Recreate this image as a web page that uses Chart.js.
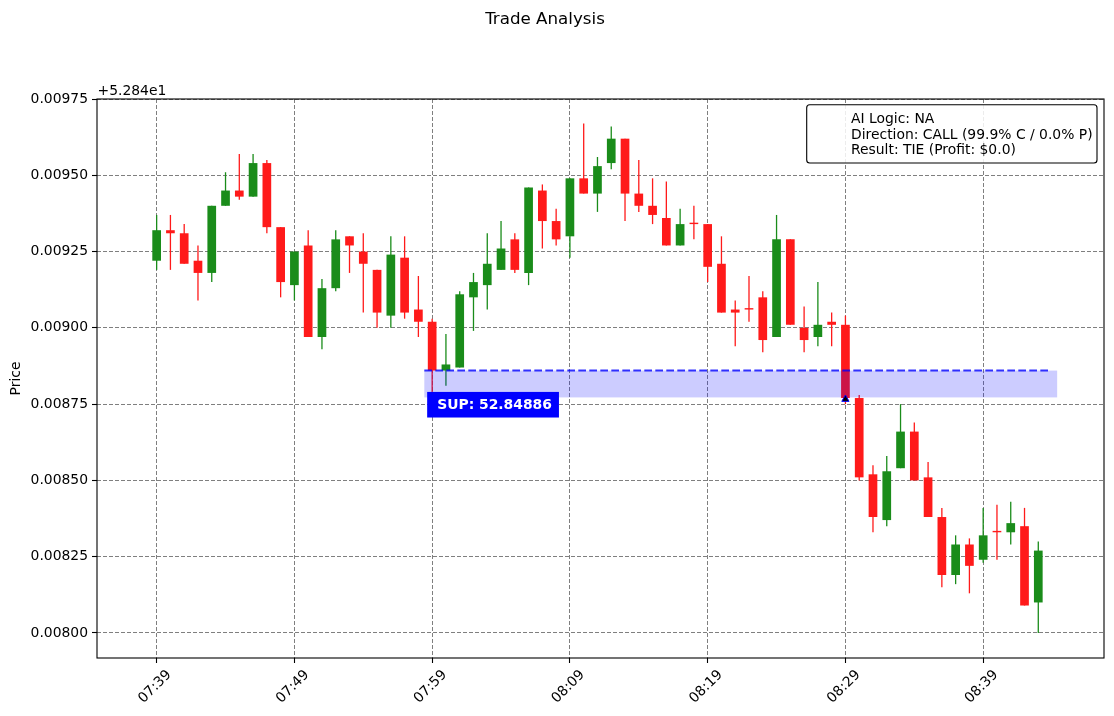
<!DOCTYPE html>
<html>
<head>
<meta charset="utf-8">
<title>Trade Analysis</title>
<script src="https://cdn.jsdelivr.net/npm/chart.js@4.4.1/dist/chart.umd.min.js"></script>
<style>
  html, body { margin: 0; padding: 0; background: #fff; }
  canvas { display: block; }
</style>
</head>
<body>
<canvas id="tradeChart" width="1114" height="716"></canvas>
<script>
// one candle per minute
const times = [
  '07:39','07:40','07:41','07:42','07:43','07:44','07:45','07:46','07:47','07:48',
  '07:49','07:50','07:51','07:52','07:53','07:54','07:55','07:56','07:57','07:58',
  '07:59','08:00','08:01','08:02','08:03','08:04','08:05','08:06','08:07','08:08',
  '08:09','08:10','08:11','08:12','08:13','08:14','08:15','08:16','08:17','08:18',
  '08:19','08:20','08:21','08:22','08:23','08:24','08:25','08:26','08:27','08:28',
  '08:29','08:30','08:31','08:32','08:33','08:34','08:35','08:36','08:37','08:38',
  '08:39','08:40','08:41','08:42','08:43'
];
const opens = [
  52.84922,52.84932,52.84931,52.84922,52.84918,52.84940,52.84945,52.84943,52.84954,52.84933,
  52.84914,52.84927,52.84897,52.84913,52.84930,52.84925,52.84919,52.84904,52.84923,52.84906,
  52.84902,52.84886,52.84887,52.84910,52.84914,52.84919,52.84929,52.84918,52.84945,52.84935,
  52.84930,52.84949,52.84944,52.84954,52.84962,52.84944,52.84940,52.84936,52.84927,52.84934,
  52.84934,52.84921,52.84906,52.84906,52.84910,52.84897,52.84929,52.84900,52.84897,52.84902,
  52.84901,52.84877,52.84852,52.84837,52.84854,52.84866,52.84851,52.84838,52.84819,52.84829,
  52.84824,52.84833,52.84833,52.84835,52.84810
];
const highs = [
  52.84937,52.84937,52.84934,52.84927,52.84940,52.84951,52.84957,52.84957,52.84955,52.84933,
  52.84925,52.84932,52.84916,52.84932,52.84930,52.84931,52.84919,52.84930,52.84930,52.84917,
  52.84903,52.84898,52.84912,52.84918,52.84931,52.84935,52.84931,52.84946,52.84947,52.84939,
  52.84949,52.84967,52.84956,52.84966,52.84962,52.84955,52.84949,52.84948,52.84939,52.84940,
  52.84934,52.84930,52.84909,52.84917,52.84912,52.84937,52.84929,52.84907,52.84915,52.84905,
  52.84904,52.84878,52.84855,52.84858,52.84875,52.84869,52.84856,52.84841,52.84832,52.84831,
  52.84841,52.84842,52.84843,52.84841,52.84830
];
const lows = [
  52.84919,52.84919,52.84921,52.84909,52.84915,52.84940,52.84942,52.84943,52.84931,52.84910,
  52.84909,52.84897,52.84893,52.84912,52.84918,52.84905,52.84900,52.84900,52.84903,52.84897,
  52.84879,52.84881,52.84887,52.84899,52.84906,52.84919,52.84918,52.84914,52.84926,52.84927,
  52.84923,52.84944,52.84938,52.84952,52.84935,52.84938,52.84934,52.84927,52.84927,52.84929,
  52.84915,52.84905,52.84894,52.84902,52.84892,52.84897,52.84901,52.84892,52.84894,52.84894,
  52.84875,52.84850,52.84833,52.84835,52.84854,52.84850,52.84838,52.84815,52.84816,52.84813,
  52.84823,52.84824,52.84829,52.84809,52.84800
];
const closes = [
  52.84932,52.84931,52.84921,52.84918,52.84940,52.84945,52.84943,52.84954,52.84933,52.84915,
  52.84925,52.84897,52.84913,52.84929,52.84927,52.84921,52.84905,52.84924,52.84905,52.84902,
  52.84886,52.84888,52.84911,52.84915,52.84921,52.84926,52.84919,52.84946,52.84935,52.84929,
  52.84949,52.84944,52.84953,52.84962,52.84944,52.84940,52.84937,52.84927,52.84934,52.84934,
  52.84920,52.84905,52.84905,52.84906,52.84896,52.84929,52.84901,52.84896,52.84901,52.84901,
  52.84877,52.84851,52.84838,52.84853,52.84866,52.84850,52.84838,52.84819,52.84829,52.84822,
  52.84832,52.84833,52.84836,52.84809,52.84827
];

const xTickLabels = ['07:39','07:49','07:59','08:09','08:19','08:29','08:39'];
const yOffset = 52.84;
const yOffsetText = '+5.284e1';
const yTickLabels = ['0.00800','0.00825','0.00850','0.00875','0.00900','0.00925','0.00950','0.00975'];

// support zone
const supLevel = 52.84886;
const supLow = 52.848772;
const supStart = 478.43;     // minutes of day, just before 07:59
const supLineEnd = 523.86;
const supBandEnd = 524.37;
const supLabel = 'SUP: 52.84886';

// entry marker
const entryTime = '08:29';
const entryPrice = 52.848766;

const legendLines = [
  'AI Logic: NA',
  'Direction: CALL (99.9% C / 0.0% P)',
  'Result: TIE (Profit: $0.0)'
];
const titleText = 'Trade Analysis';

const toMin = t => { const p = t.split(':'); return (+p[0]) * 60 + (+p[1]); };

const upColor = '#1a8c1a';
const downColor = '#ff1a1a';
const candleColors = times.map((t, i) => closes[i] > opens[i] ? upColor : downColor);

const wickData = times.map((t, i) => ({ x: toMin(t), y: [lows[i], highs[i]] }));
const bodyData = times.map((t, i) => ({ x: toMin(t), y: [opens[i], closes[i]] }));

const FONT = 'DejaVu Sans';
Chart.defaults.font.family = FONT;

const overlay = {
  id: 'overlay',
  afterDatasetDraw(chart, args) {
    if (args.index !== 1) return;
    const { ctx, chartArea: a, scales: { x, y } } = chart;
    ctx.save();
    ctx.beginPath();
    ctx.rect(a.left, a.top, a.right - a.left, a.bottom - a.top);
    ctx.clip();
    const x0 = x.getPixelForValue(supStart);
    const x1 = x.getPixelForValue(supBandEnd);
    const xl = x.getPixelForValue(supLineEnd);
    const yt = y.getPixelForValue(supLevel);
    const yb = y.getPixelForValue(supLow);
    ctx.fillStyle = 'rgba(0,0,255,0.2)';
    ctx.fillRect(x0, yt, x1 - x0, yb - yt);
    ctx.strokeStyle = 'rgba(0,0,255,0.8)';
    ctx.lineWidth = 2;
    ctx.setLineDash([7.7, 3.3]);
    ctx.beginPath();
    ctx.moveTo(x0, yt);
    ctx.lineTo(xl, yt);
    ctx.stroke();
    ctx.restore();
  },
  afterDraw(chart) {
    const { ctx, chartArea: a, scales: { x, y } } = chart;
    ctx.save();

    // frame
    ctx.strokeStyle = '#000';
    ctx.lineWidth = 1.1;
    ctx.strokeRect(a.left, a.top, a.right - a.left, a.bottom - a.top);

    // title
    ctx.fillStyle = '#000';
    ctx.font = '16.7px "' + FONT + '"';
    ctx.textAlign = 'center';
    ctx.textBaseline = 'alphabetic';
    ctx.fillText(titleText, 545, 24);

    // offset text
    ctx.font = '13.9px "' + FONT + '"';
    ctx.textAlign = 'left';
    ctx.fillText(yOffsetText, a.left + 0.5, a.top - 4.5);

    // y title
    ctx.save();
    ctx.translate(16.5, (a.top + a.bottom) / 2);
    ctx.rotate(-Math.PI / 2);
    ctx.textAlign = 'center';
    ctx.textBaseline = 'middle';
    ctx.fillText('Price', 0, 0);
    ctx.restore();

    // x tick labels, rotated 45 and centred on the tick
    ctx.textAlign = 'center';
    ctx.textBaseline = 'middle';
    xTickLabels.forEach(t => {
      const px = x.getPixelForValue(toMin(t));
      const w = ctx.measureText(t).width;
      const side = (w + 14) * Math.SQRT1_2;
      ctx.save();
      ctx.translate(px - 1.5, a.bottom + 9.8 + side / 2);
      ctx.rotate(-Math.PI / 4);
      ctx.fillText(t, 0, 0);
      ctx.restore();
    });

    // support label
    ctx.font = 'bold 13.9px "' + FONT + '"';
    ctx.textAlign = 'left';
    const tx = x.getPixelForValue(toMin('07:59')) + 5;
    const ty = y.getPixelForValue(supLow) + 7.3;
    const tw = ctx.measureText(supLabel).width;
    ctx.fillStyle = '#0000ff';
    ctx.fillRect(tx - 10, ty - 12.8, tw + 17, 25.6);
    ctx.fillStyle = '#fff';
    ctx.fillText(supLabel, tx, ty + 0.5);

    // legend box
    const lx0 = a.right - 297.3, lx1 = a.right - 7, ly0 = a.top + 5.7, ly1 = a.top + 64;
    ctx.beginPath();
    ctx.roundRect(lx0, ly0, lx1 - lx0, ly1 - ly0, 3);
    ctx.fillStyle = 'rgba(255,255,255,0.85)';
    ctx.fill();
    ctx.strokeStyle = '#000';
    ctx.lineWidth = 1.1;
    ctx.stroke();
    ctx.fillStyle = '#000';
    ctx.font = '13.9px "' + FONT + '"';
    ctx.textBaseline = 'alphabetic';
    legendLines.forEach((s, i) => ctx.fillText(s, lx0 + 44.3, ly0 + 18.5 + i * 15.5));

    ctx.restore();
  }
};

new Chart(document.getElementById('tradeChart').getContext('2d'), {
  type: 'bar',
  data: {
    datasets: [{
      label: 'wick',
      data: wickData,
      backgroundColor: candleColors,
      grouped: false,
      maxBarThickness: 1.3,
      order: 3
    }, {
      label: 'body',
      data: bodyData,
      backgroundColor: candleColors,
      grouped: false,
      maxBarThickness: 8.7,
      minBarLength: 1.4,
      order: 2
    }, {
      type: 'line',
      label: 'entry',
      data: [{ x: toMin(entryTime), y: entryPrice }],
      showLine: false,
      pointStyle: 'triangle',
      pointRadius: 4.2,
      backgroundColor: '#000',
      borderColor: '#0000ff',
      borderWidth: 1,
      order: 1
    }]
  },
  options: {
    responsive: false,
    animation: false,
    events: [],
    layout: { padding: { top: 99, right: 10, left: 0, bottom: 0 } },
    plugins: {
      legend: { display: false },
      tooltip: { enabled: false },
      title: { display: false }
    },
    scales: {
      x: {
        type: 'linear',
        min: 454.67,
        max: 527.77,
        offset: false,
        afterBuildTicks: s => { s.ticks = xTickLabels.map(t => ({ value: toMin(t) })); },
        afterFit: s => { s.height = 58; },
        ticks: { display: false },
        grid: {
          offset: false,
          color: 'rgba(0,0,0,0.5)',
          lineWidth: 1,
          tickLength: 5,
          tickColor: '#000',
          tickWidth: 1.1,
          tickBorderDash: []
        },
        border: { display: false, dash: [4, 2] }
      },
      y: {
        type: 'linear',
        min: 52.847918,
        max: 52.84975,
        afterBuildTicks: s => { s.ticks = yTickLabels.map(l => ({ value: yOffset + parseFloat(l) })); },
        afterFit: s => { s.width = 97; },
        ticks: {
          callback: (v, i) => yTickLabels[i],
          color: '#000',
          font: { size: 13.9 },
          padding: 4
        },
        grid: {
          color: 'rgba(0,0,0,0.5)',
          lineWidth: 1,
          tickLength: 5,
          tickColor: '#000',
          tickWidth: 1.1,
          tickBorderDash: []
        },
        border: { display: false, dash: [4, 2] }
      }
    }
  },
  plugins: [overlay]
});
</script>
</body>
</html>
